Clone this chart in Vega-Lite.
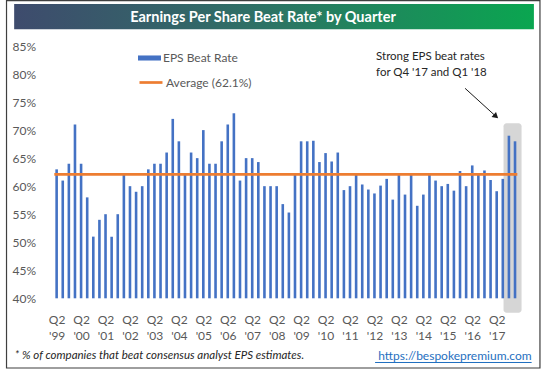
{
  "$schema": "https://vega.github.io/schema/vega-lite/v6.json",
  "width": 474.5,
  "height": 252.3,
  "autosize": {"type": "none"},
  "padding": {"left": 48.58, "top": 46, "right": 22.92, "bottom": 70.7},
  "background": "white",
  "config": {"view": {"stroke": null}, "font": "Lato"},
  "datasets": {
    "eps": [
      {"n": 1, "q": "Q2 '99", "v": 63}, {"n": 2, "q": "Q3 '99", "v": 61}, {"n": 3, "q": "Q4 '99", "v": 64}, {"n": 4, "q": "Q1 '00", "v": 71},
      {"n": 5, "q": "Q2 '00", "v": 64}, {"n": 6, "q": "Q3 '00", "v": 58}, {"n": 7, "q": "Q4 '00", "v": 51}, {"n": 8, "q": "Q1 '01", "v": 54},
      {"n": 9, "q": "Q2 '01", "v": 55}, {"n": 10, "q": "Q3 '01", "v": 51}, {"n": 11, "q": "Q4 '01", "v": 55}, {"n": 12, "q": "Q1 '02", "v": 62},
      {"n": 13, "q": "Q2 '02", "v": 60}, {"n": 14, "q": "Q3 '02", "v": 59}, {"n": 15, "q": "Q4 '02", "v": 60}, {"n": 16, "q": "Q1 '03", "v": 63},
      {"n": 17, "q": "Q2 '03", "v": 64}, {"n": 18, "q": "Q3 '03", "v": 64}, {"n": 19, "q": "Q4 '03", "v": 66}, {"n": 20, "q": "Q1 '04", "v": 72},
      {"n": 21, "q": "Q2 '04", "v": 68}, {"n": 22, "q": "Q3 '04", "v": 62}, {"n": 23, "q": "Q4 '04", "v": 66}, {"n": 24, "q": "Q1 '05", "v": 65},
      {"n": 25, "q": "Q2 '05", "v": 70}, {"n": 26, "q": "Q3 '05", "v": 64}, {"n": 27, "q": "Q4 '05", "v": 64}, {"n": 28, "q": "Q1 '06", "v": 68},
      {"n": 29, "q": "Q2 '06", "v": 71}, {"n": 30, "q": "Q3 '06", "v": 73}, {"n": 31, "q": "Q4 '06", "v": 61}, {"n": 32, "q": "Q1 '07", "v": 65},
      {"n": 33, "q": "Q2 '07", "v": 65}, {"n": 34, "q": "Q3 '07", "v": 64.3}, {"n": 35, "q": "Q4 '07", "v": 60}, {"n": 36, "q": "Q1 '08", "v": 60},
      {"n": 37, "q": "Q2 '08", "v": 60}, {"n": 38, "q": "Q3 '08", "v": 56.8}, {"n": 39, "q": "Q4 '08", "v": 55.3}, {"n": 40, "q": "Q1 '09", "v": 62},
      {"n": 41, "q": "Q2 '09", "v": 68}, {"n": 42, "q": "Q3 '09", "v": 68}, {"n": 43, "q": "Q4 '09", "v": 68.1}, {"n": 44, "q": "Q1 '10", "v": 64.3},
      {"n": 45, "q": "Q2 '10", "v": 65.9}, {"n": 46, "q": "Q3 '10", "v": 64.4}, {"n": 47, "q": "Q4 '10", "v": 66}, {"n": 48, "q": "Q1 '11", "v": 59.3},
      {"n": 49, "q": "Q2 '11", "v": 60}, {"n": 50, "q": "Q3 '11", "v": 62}, {"n": 51, "q": "Q4 '11", "v": 60.3}, {"n": 52, "q": "Q1 '12", "v": 59.4},
      {"n": 53, "q": "Q2 '12", "v": 58.7}, {"n": 54, "q": "Q3 '12", "v": 60.1}, {"n": 55, "q": "Q4 '12", "v": 61.3}, {"n": 56, "q": "Q1 '13", "v": 57.6},
      {"n": 57, "q": "Q2 '13", "v": 62}, {"n": 58, "q": "Q3 '13", "v": 58.5}, {"n": 59, "q": "Q4 '13", "v": 62}, {"n": 60, "q": "Q1 '14", "v": 56.5},
      {"n": 61, "q": "Q2 '14", "v": 58.5}, {"n": 62, "q": "Q3 '14", "v": 62}, {"n": 63, "q": "Q4 '14", "v": 61}, {"n": 64, "q": "Q1 '15", "v": 60},
      {"n": 65, "q": "Q2 '15", "v": 60.4}, {"n": 66, "q": "Q3 '15", "v": 59.2}, {"n": 67, "q": "Q4 '15", "v": 62.7}, {"n": 68, "q": "Q1 '16", "v": 60},
      {"n": 69, "q": "Q2 '16", "v": 63.7}, {"n": 70, "q": "Q3 '16", "v": 62}, {"n": 71, "q": "Q4 '16", "v": 62.8}, {"n": 72, "q": "Q1 '17", "v": 61.1},
      {"n": 73, "q": "Q2 '17", "v": 59.1}, {"n": 74, "q": "Q3 '17", "v": 61.3}, {"n": 75, "q": "Q4 '17", "v": 69}, {"n": 76, "q": "Q1 '18", "v": 68}
    ]
  },
  "layer": [
    {
      "data": {"values": [{}]},
      "mark": {"type": "rect", "fill": "white", "stroke": "#3f3f3f", "strokeWidth": 1.2},
      "encoding": {
        "x": {"datum": -7.2, "type": "quantitative"}, "x2": {"datum": 80.08},
        "y": {"datum": 93.11, "type": "quantitative"}, "y2": {"datum": 27.57}
      }
    },
    {
      "data": {"values": [{}]},
      "mark": {"type": "rect", "fill": {"gradient": "linear", "x1": 0, "x2": 1, "y1": 0, "y2": 0, "stops": [{"offset": 0, "color": "#3e4b6d"}, {"offset": 0.45, "color": "#2f6f66"}, {"offset": 1, "color": "#0aa650"}]}},
      "encoding": {
        "x": {"datum": -5.95, "type": "quantitative"}, "x2": {"datum": 79.09},
        "y": {"datum": 92.49, "type": "quantitative"}, "y2": {"datum": 87.98}
      }
    },
    {
      "data": {"values": [{}]},
      "mark": {"type": "text", "text": "Earnings Per Share Beat Rate* by Quarter", "font": "Lato", "fontSize": 14.5, "fontWeight": "bold", "color": "white", "align": "center", "baseline": "alphabetic"},
      "encoding": {"x": {"datum": 34.76, "type": "quantitative"}, "y": {"datum": 89.33, "type": "quantitative"}}
    },
    {
      "data": {"values": [{}]},
      "mark": {"type": "rect", "fill": "#d6d6d6", "cornerRadius": 3},
      "encoding": {
        "x": {"datum": 74.12, "type": "quantitative"}, "x2": {"datum": 77.07},
        "y": {"datum": 71.21, "type": "quantitative"}, "y2": {"datum": 37.43}
      }
    },
    {
      "data": {"name": "eps"},
      "mark": {"type": "bar", "size": 2.6},
      "encoding": {
        "x": {
          "field": "n", "type": "quantitative",
          "scale": {"domain": [0.5, 76.5], "nice": false, "zero": false},
          "axis": {
            "title": null, "zindex": 2, "tickCount": 200, "values": [1, 5, 9, 13, 17, 21, 25, 29, 33, 37, 41, 45, 49, 53, 57, 61, 65, 69, 73],
            "labelExpr": "['Q2', \"'\" + format((99 + (datum.value - 1) / 4) % 100, '02d')]",
            "domain": false, "ticks": false, "tickSize": 0, "grid": false,
            "labelFont": "Lato", "labelFontSize": 12, "labelColor": "#595959", "labelPadding": 16, "labelLineHeight": 16.5, "labelFlush": false, "labelOverlap": false
          }
        },
        "y": {
          "field": "v", "type": "quantitative",
          "scale": {"domain": [40, 85], "nice": false, "zero": false},
          "axis": {
            "title": null, "zindex": 2, "tickCount": 200, "values": [40, 45, 50, 55, 60, 65, 70, 75, 80, 85],
            "labelExpr": "datum.value + '%'",
            "domain": false, "ticks": false, "tickSize": 0, "grid": false, "labelOverlap": false,
            "labelFont": "Lato", "labelFontSize": 12, "labelColor": "#595959", "labelPadding": 13
          }
        },
        "y2": {"datum": 40},
        "color": {
          "datum": "EPS Beat Rate",
          "scale": {"range": ["#4472C4"]},
          "legend": {
            "title": null, "orient": "none", "legendX": 89.4, "legendY": 0.5, "padding": 0,
            "symbolType": "M-1,-0.22H1V0.22H-1Z", "symbolSize": 529, "symbolStrokeWidth": 0,
            "labelFont": "Lato", "labelFontSize": 12, "labelColor": "#595959", "labelOffset": 2
          }
        }
      }
    },
    {
      "data": {"values": [{}]},
      "mark": {"type": "rule", "strokeWidth": 2.7},
      "encoding": {
        "x": {"datum": 0.62, "type": "quantitative"}, "x2": {"datum": 76.38},
        "y": {"datum": 62.1, "type": "quantitative"},
        "stroke": {
          "datum": "Average (62.1%)",
          "scale": {"range": ["#ED7D31"]},
          "legend": {
            "title": null, "orient": "none", "legendX": 89.4, "legendY": 23.5, "padding": 0,
            "symbolType": "stroke", "symbolSize": 529, "symbolStrokeWidth": 2.7,
            "labelFont": "Lato", "labelFontSize": 12, "labelColor": "#595959", "labelOffset": 2
          }
        }
      }
    },
    {
      "data": {"values": [{}]},
      "mark": {"type": "text", "text": ["Strong EPS beat rates", "for Q4 '17 and Q1 '18"], "font": "Lato", "fontSize": 11.5, "color": "#262626", "align": "left", "baseline": "alphabetic", "lineHeight": 15.7},
      "encoding": {"x": {"datum": 53.26, "type": "quantitative"}, "y": {"datum": 82.5, "type": "quantitative"}}
    },
    {
      "data": {"values": [{}]},
      "mark": {"type": "rule", "color": "#1a1a1a", "strokeWidth": 1},
      "encoding": {
        "x": {"datum": 67.83, "type": "quantitative"}, "x2": {"datum": 72.88},
        "y": {"datum": 77.45, "type": "quantitative"}, "y2": {"datum": 72.44}
      }
    },
    {
      "data": {"values": [{}]},
      "mark": {"type": "point", "shape": "triangle-right", "angle": 41.7, "size": 45, "filled": true, "color": "#1a1a1a", "opacity": 1},
      "encoding": {"x": {"datum": 72.88, "type": "quantitative"}, "y": {"datum": 72.44, "type": "quantitative"}}
    },
    {
      "data": {"values": [{}]},
      "mark": {"type": "text", "text": "* % of companies that beat consensus analyst EPS estimates.", "font": "Lato", "fontSize": 11.5, "fontStyle": "italic", "color": "#262626", "align": "left", "baseline": "middle"},
      "encoding": {"x": {"datum": -5.84, "type": "quantitative"}, "y": {"datum": 29.71, "type": "quantitative"}}
    },
    {
      "data": {"values": [{}]},
      "mark": {"type": "text", "text": "https://bespokepremium.com", "font": "Lato", "fontSize": 12, "color": "#1f6fc0", "align": "right", "baseline": "middle"},
      "encoding": {"x": {"datum": 78.72, "type": "quantitative"}, "y": {"datum": 29.71, "type": "quantitative"}}
    },
    {
      "data": {"values": [{}]},
      "mark": {"type": "rule", "color": "#1f6fc0", "strokeWidth": 1},
      "encoding": {
        "x": {"datum": 53.1, "type": "quantitative"}, "x2": {"datum": 78.72},
        "y": {"datum": 28.55, "type": "quantitative"}
      }
    }
  ]
}
